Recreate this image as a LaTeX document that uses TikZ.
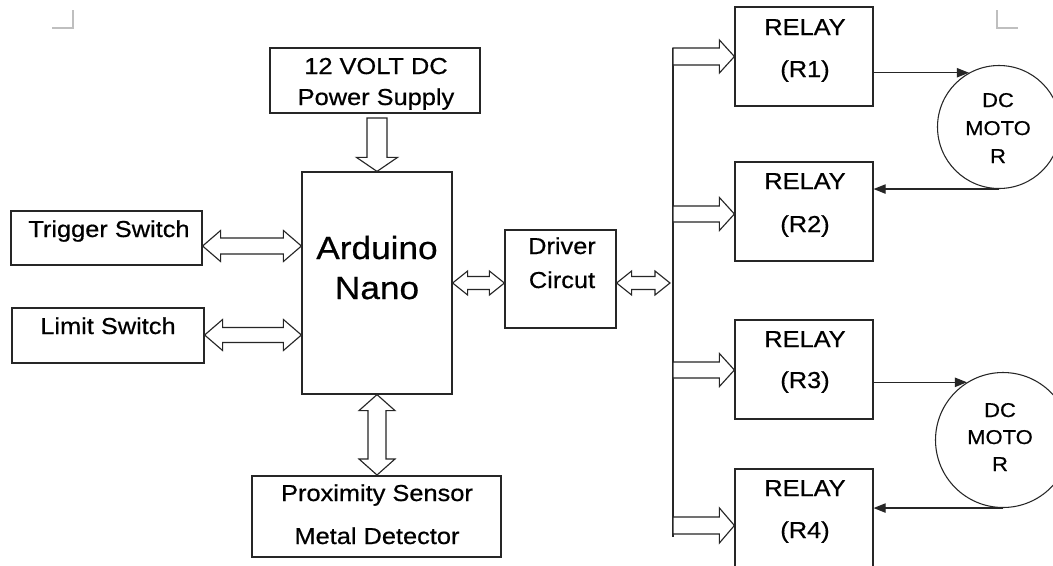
\documentclass[tikz,border=0pt]{standalone}
\usepackage{fontspec}
\setmainfont{Liberation Sans}[FakeStretch=1.1,FakeBold=0.6]
\usetikzlibrary{calc,arrows.meta}
\begin{document}
\begin{tikzpicture}[x=0.75pt,y=-0.75pt,
  box/.style={draw=black!85, line width=0.9pt, inner sep=0pt, rectangle},
  motor/.style={draw=black!85, circle, inner sep=0pt, line width=0.8pt},
  txt/.style={anchor=base, inner sep=0pt, font=\fontsize{17.3}{20}\selectfont},
  bigtxt/.style={anchor=base, inner sep=0pt, font=\fontsize{24}{28}\selectfont},
  mtxt/.style={anchor=base, inner sep=0pt, font=\fontsize{15}{18}\selectfont},
  hollow/.style={draw=black!85, line width=0.85pt, fill=white},
  conn/.style={draw=black!85, line width=0.85pt, -{Triangle[length=9pt,width=7pt]}},
  cornermark/.style={draw=black!25, line width=0.9pt},
  hdbl/.style n args={3}{to path={-- ($(\tikztostart)+(#1,#2)$) -- ($(\tikztostart)+(#1,#3)$) -- ($(\tikztotarget)+(-#1,#3)$) -- ($(\tikztotarget)+(-#1,#2)$) -- (\tikztotarget) -- ($(\tikztotarget)+(-#1,-#2)$) -- ($(\tikztotarget)+(-#1,-#3)$) -- ($(\tikztostart)+(#1,-#3)$) -- ($(\tikztostart)+(#1,-#2)$) -- cycle}},
  vdbl/.style n args={3}{to path={-- ($(\tikztostart)+(#2,#1)$) -- ($(\tikztostart)+(#3,#1)$) -- ($(\tikztotarget)+(#3,-#1)$) -- ($(\tikztotarget)+(#2,-#1)$) -- (\tikztotarget) -- ($(\tikztotarget)+(-#2,-#1)$) -- ($(\tikztotarget)+(-#3,-#1)$) -- ($(\tikztostart)+(-#3,#1)$) -- ($(\tikztostart)+(-#2,#1)$) -- cycle}},
  dnarr/.style n args={3}{to path={-- ($(\tikztostart)+(#3,0)$) -- ($(\tikztotarget)+(#3,-#1)$) -- ($(\tikztotarget)+(#2,-#1)$) -- (\tikztotarget) -- ($(\tikztotarget)+(-#2,-#1)$) -- ($(\tikztotarget)+(-#3,-#1)$) -- ($(\tikztostart)+(-#3,0)$) -- cycle}},
  rarr/.style n args={3}{to path={-- ($(\tikztostart)+(0,#3)$) -- ($(\tikztotarget)+(-#1,#3)$) -- ($(\tikztotarget)+(-#1,#2)$) -- (\tikztotarget) -- ($(\tikztotarget)+(-#1,-#2)$) -- ($(\tikztotarget)+(-#1,-#3)$) -- ($(\tikztostart)+(0,-#3)$) -- cycle}}
]
\clip (0,0) rectangle (1053,565);
\fill[white] (0,0) rectangle (1053,565);

% corner marks
\coordinate (cl1) at (73,10); \coordinate (cl2) at (73,28); \coordinate (cl3) at (52,28);
\draw[cornermark] (cl1) -- (cl2) -- (cl3);
\coordinate (cr1) at (997,10); \coordinate (cr2) at (997,28); \coordinate (cr3) at (1018,28);
\draw[cornermark] (cr1) -- (cr2) -- (cr3);

% boxes
\node[box, minimum width=157.5pt, minimum height=48.75pt] (ps) at (375,80.5) {};
\node[box, minimum width=112.5pt, minimum height=166.5pt] (ard) at (377,283) {};
\node[box, minimum width=143.25pt, minimum height=40.5pt] (trig) at (106.5,238) {};
\node[box, minimum width=144pt, minimum height=41.25pt] (lim) at (108,335.5) {};
\node[box, minimum width=83.25pt, minimum height=73.5pt] (drv) at (560.5,279) {};
\node[box, minimum width=186.75pt, minimum height=60.75pt] (prox) at (376.5,516.5) {};
\node[box, minimum width=103.5pt, minimum height=74.25pt] (r1) at (804,56.5) {};
\node[box, minimum width=103.5pt, minimum height=74.25pt] (r2) at (804,211.5) {};
\node[box, minimum width=103.5pt, minimum height=74.25pt] (r3) at (804,369.5) {};
\node[box, minimum width=103.5pt, minimum height=82.5pt] (r4) at (804,524) {};
\node[motor, minimum size=92.25pt] (m1) at (999,127) {};
\node[motor, minimum size=101.25pt] (m2) at (1003,440) {};

% texts
\node[txt] (tps1) at (376,74) {12 VOLT DC};
\node[txt] (tps2) at (376,105) {Power Supply};
\node[txt] (ttrig) at (109,237) {Trigger Switch};
\node[txt] (tlim) at (108,334) {Limit Switch};
\node[bigtxt] (tard1) at (377,259) {Arduino};
\node[bigtxt] (tard2) at (377,299) {Nano};
\node[txt] (tdrv1) at (562,254) {Driver};
\node[txt] (tdrv2) at (562,288) {Circut};
\node[txt] (tprox1) at (377,501) {Proximity Sensor};
\node[txt] (tprox2) at (377,544) {Metal Detector};
\node[txt] (tr1a) at (805,35) {RELAY};
\node[txt] (tr1b) at (805,77) {(R1)};
\node[txt] (tr2a) at (805,189) {RELAY};
\node[txt] (tr2b) at (805,232) {(R2)};
\node[txt] (tr3a) at (805,347) {RELAY};
\node[txt] (tr3b) at (805,388) {(R3)};
\node[txt] (tr4a) at (805,496) {RELAY};
\node[txt] (tr4b) at (805,538) {(R4)};
\node[mtxt] (tm1a) at (998,107) {DC};
\node[mtxt] (tm1b) at (998,135) {MOTO};
\node[mtxt] (tm1c) at (998,163) {R};
\node[mtxt] (tm2a) at (1000,417) {DC};
\node[mtxt] (tm2b) at (1000,444) {MOTO};
\node[mtxt] (tm2c) at (1000,471) {R};

% power arrow
\coordinate (pa) at (377,118);
\draw[hollow, dnarr={14}{20.5}{10}] (pa) to (ard.north);

% double arrows
\coordinate (ta) at (trig.east |- 0,246); \coordinate (tb) at (ard.west |- 0,246);
\draw[hollow, hdbl={18}{15.5}{8}] (ta) to (tb);
\coordinate (la) at (lim.east |- 0,335); \coordinate (lb) at (ard.west |- 0,335);
\draw[hollow, hdbl={18}{15.5}{7.5}] (la) to (lb);
\coordinate (da) at (ard.east |- 0,283); \coordinate (db) at (drv.west |- 0,283);
\draw[hollow, hdbl={15}{12}{6.5}] (da) to (db);
\coordinate (bustop) at (673,48); \coordinate (busbot) at (673,537);
\coordinate (ea) at (drv.east |- 0,283); \coordinate (eb) at (670,283);
\draw[hollow, hdbl={15}{12}{6.5}] (ea) to (eb);
\coordinate (pxa) at (ard.south); \coordinate (pxb) at (ard.south |- 0,475);
\draw[hollow, vdbl={16}{18}{9}] (pxa) to (pxb);

% bus
\draw[draw=black!85, line width=0.9pt] (bustop) -- (busbot);
\coordinate (b1) at (bustop |- 0,56.5); \coordinate (e1) at (r1.west |- 0,56.5);
\coordinate (b2) at (bustop |- 0,214); \coordinate (e2) at (r2.west |- 0,214);
\coordinate (b3) at (bustop |- 0,370); \coordinate (e3) at (r3.west |- 0,370);
\coordinate (b4) at (bustop |- 0,525.5); \coordinate (e4) at (r4.west |- 0,525.5);
\draw[hollow, rarr={15}{16.5}{8.5}] (b1) to (e1);
\draw[hollow, rarr={15}{16.5}{8}] (b2) to (e2);
\draw[hollow, rarr={15}{16.5}{8}] (b3) to (e3);
\draw[hollow, rarr={15}{17.5}{8.5}] (b4) to (e4);

% relay - motor connectors
\draw[conn] (r1.east |- m1.119) -- (m1.119);
\draw[conn] (m1.south) -- (r2.east |- m1.south);
\draw[conn] (r3.east |- m2.122) -- (m2.122);
\draw[conn] (m2.south) -- (r4.east |- m2.south);
\end{tikzpicture}
\end{document}
